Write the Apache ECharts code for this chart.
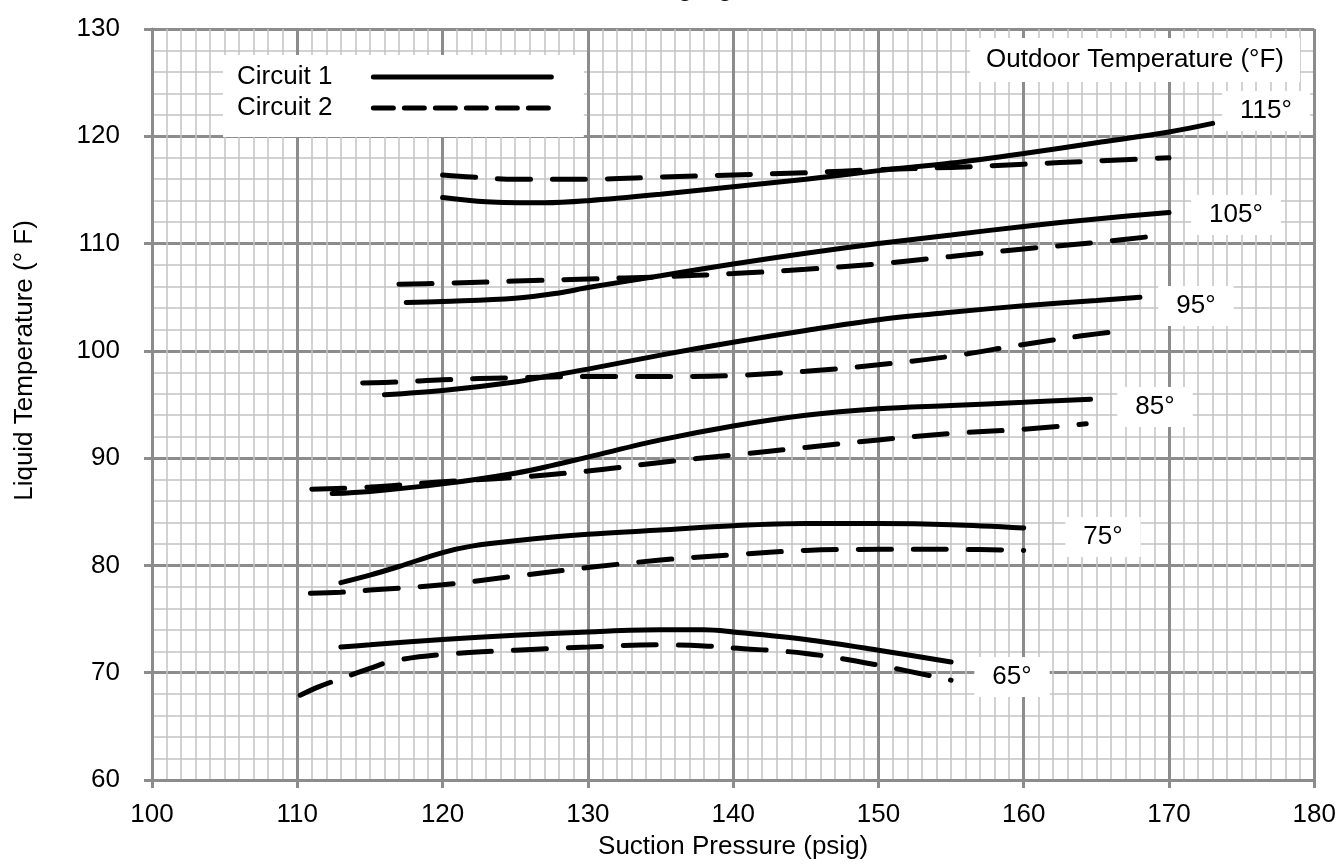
<!DOCTYPE html>
<html>
<head>
<meta charset="utf-8">
<title>Charging Chart</title>
<script src="https://cdn.jsdelivr.net/npm/echarts@6/dist/echarts.min.js"></script>
<style>
  html, body { margin: 0; padding: 0; background: #fff; }
  #chart { width: 1339px; height: 865px; }
</style>
</head>
<body>
<div id="chart"></div>
<script>
// curve points [suction pressure, liquid temperature]
const c1_115 = [[120,114.3],[123,113.9],[127,113.8],[130,114.0],[135,114.6],[140,115.3],[145,116.0],[150,116.8],[155,117.5],[160,118.4],[165,119.4],[170,120.4],[173,121.2]]
const c2_115 = [[120,116.4],[122,116.2],[125,116.0],[130,116.0],[135,116.2],[140,116.4],[145,116.6],[150,116.9],[155,117.1],[160,117.4],[165,117.7],[170,118.0]]
const c1_105 = [[117.5,104.5],[120,104.6],[125,104.9],[128,105.4],[130,105.9],[135,107.0],[140,108.1],[145,109.1],[150,110.0],[155,110.8],[160,111.6],[165,112.3],[170,112.9]]
const c2_105 = [[117,106.2],[120,106.3],[125,106.5],[130,106.7],[135,106.9],[140,107.2],[145,107.6],[150,108.1],[155,108.8],[160,109.5],[165,110.1],[169,110.7]]
const c1_95 = [[116,95.9],[120,96.3],[125,97.1],[127.5,97.7],[130,98.3],[135,99.6],[140,100.8],[145,101.9],[150,102.9],[155,103.6],[160,104.2],[165,104.7],[168,105.0]]
const c2_95 = [[114.5,97.0],[117,97.1],[120,97.3],[125,97.5],[130,97.6],[135,97.6],[140,97.7],[145,98.1],[150,98.7],[155,99.5],[160,100.6],[164,101.4],[167,101.9]]
const c1_85 = [[112.4,86.7],[115,86.9],[120,87.6],[125,88.6],[127.5,89.3],[130,90.1],[135,91.7],[140,93.0],[145,94.0],[150,94.6],[155,94.9],[160,95.2],[164.6,95.5]]
const c2_85 = [[111,87.1],[115,87.3],[120,87.8],[125,88.2],[130,88.8],[135,89.6],[140,90.3],[145,91.0],[150,91.7],[155,92.3],[160,92.7],[164.3,93.2]]
const c1_75 = [[113,78.4],[115,79.1],[117,79.9],[120,81.2],[122,81.8],[125,82.3],[130,82.9],[135,83.3],[140,83.7],[145,83.9],[150,83.9],[155,83.8],[160,83.5]]
const c2_75 = [[110.9,77.4],[113,77.5],[115,77.7],[120,78.2],[125,79.0],[130,79.8],[135,80.5],[140,81.0],[145,81.4],[150,81.5],[155,81.5],[160,81.4]]
const c1_65 = [[113,72.4],[115,72.6],[120,73.1],[125,73.5],[130,73.8],[135,74.0],[138,74.0],[140,73.8],[145,73.1],[150,72.1],[155,71.0]]
const c2_65 = [[110.2,67.9],[111.5,68.7],[113.3,69.6],[115,70.4],[116.6,71.1],[120,71.7],[125,72.1],[130,72.4],[135,72.6],[138,72.5],[140,72.3],[145,71.8],[150,70.7],[155,69.3]]

const circuit1 = [c1_115, c1_105, c1_95, c1_85, c1_75, c1_65]
const circuit2 = [c2_115, c2_105, c2_95, c2_85, c2_75, c2_65]

// outdoor temperature labels and where they sit (px)
const tempLabels = ['115°', '105°', '95°', '85°', '75°', '65°']
const tempLabelPos = [[1266, 111], [1236, 215], [1196, 306], [1155, 407], [1103, 537], [1012, 677]]

const FONT = '"Liberation Sans", Arial, sans-serif'
const FS = 26
const DASH = [33, 22]

const chart = echarts.init(document.getElementById('chart'), null, { renderer: 'canvas' })

const series = []
circuit1.forEach(d => series.push({
  name: 'Circuit 1', type: 'line', data: d, smooth: 0.35, symbol: 'none',
  itemStyle: { color: '#000' },
  lineStyle: { color: '#000', width: 5, cap: 'round' }, z: 3
}))
circuit2.forEach(d => series.push({
  name: 'Circuit 2', type: 'line', data: d, smooth: 0.35, symbol: 'none',
  itemStyle: { color: '#000' },
  lineStyle: { color: '#000', width: 5, type: DASH, cap: 'round' }, z: 3
}))

const labelGraphics = tempLabels.map((t, i) => ({
  type: 'text',
  x: tempLabelPos[i][0], y: tempLabelPos[i][1],
  z: 10,
  style: {
    text: t, font: FS + 'px ' + FONT, fill: '#000',
    align: 'center', verticalAlign: 'middle',
    backgroundColor: '#fff', padding: [7, 18, 7, 18]
  }
}))
labelGraphics.push({
  type: 'text', x: 1135, y: 60, z: 10,
  style: {
    text: 'Outdoor Temperature (°F)', font: FS + 'px ' + FONT, fill: '#000',
    align: 'center', verticalAlign: 'middle',
    backgroundColor: '#fff', padding: [9, 16, 9, 16]
  }
})

const option = {
  animation: false,
  backgroundColor: '#fff',
  title: {
    text: 'Charging Chart',
    left: 607, top: -33,
    textStyle: { fontFamily: FONT, fontSize: 30, fontWeight: 'normal', color: '#000' }
  },
  grid: { left: 152, right: 21, top: 29, bottom: 83 },
  legend: {
    data: [
      { name: 'Circuit 1', lineStyle: { width: 5, cap: 'round' } },
      { name: 'Circuit 2', lineStyle: { width: 5, type: [20, 11], cap: 'round' } }
    ],
    orient: 'vertical', align: 'right',
    left: 223, top: 55,
    padding: [8, 30, 15, 14],
    backgroundColor: '#fff',
    itemWidth: 178, itemHeight: 14, itemGap: 3,
    itemStyle: { opacity: 0 },
    lineStyle: { width: 5, cap: 'round' },
    textStyle: { fontFamily: FONT, fontSize: FS, color: '#000', lineHeight: 28, padding: [0, 36, 0, 0] },
    z: 10
  },
  xAxis: {
    type: 'value', min: 100, max: 180, interval: 10,
    name: 'Suction Pressure (psig)', nameLocation: 'middle', nameGap: 54,
    nameTextStyle: { fontFamily: FONT, fontSize: FS, color: '#000' },
    axisLine: { lineStyle: { color: '#8c8c8c', width: 3 } },
    axisTick: { show: true, length: 8, lineStyle: { color: '#8c8c8c', width: 3 } },
    axisLabel: { fontFamily: FONT, fontSize: FS, color: '#000', margin: 22 },
    splitLine: { show: true, lineStyle: { color: '#8c8c8c', width: 3 } },
    minorTick: { show: false, splitNumber: 10 },
    minorSplitLine: { show: true, lineStyle: { color: '#c4c4c4', width: 1.5 } }
  },
  yAxis: {
    type: 'value', min: 60, max: 130, interval: 10,
    name: 'Liquid Temperature (° F)', nameLocation: 'middle', nameGap: 114,
    nameTextStyle: { fontFamily: FONT, fontSize: FS, color: '#000', padding: [0, 0, 0, 88] },
    axisLine: { show: true, lineStyle: { color: '#8c8c8c', width: 3 } },
    axisTick: { show: true, length: 8, lineStyle: { color: '#8c8c8c', width: 3 } },
    axisLabel: { fontFamily: FONT, fontSize: FS, color: '#000', margin: 32 },
    splitLine: { show: true, lineStyle: { color: '#8c8c8c', width: 3 } },
    minorTick: { show: false, splitNumber: 5 },
    minorSplitLine: { show: true, lineStyle: { color: '#c4c4c4', width: 1.5 } }
  },
  graphic: labelGraphics,
  series: series
}

chart.setOption(option)
</script>
</body>
</html>
